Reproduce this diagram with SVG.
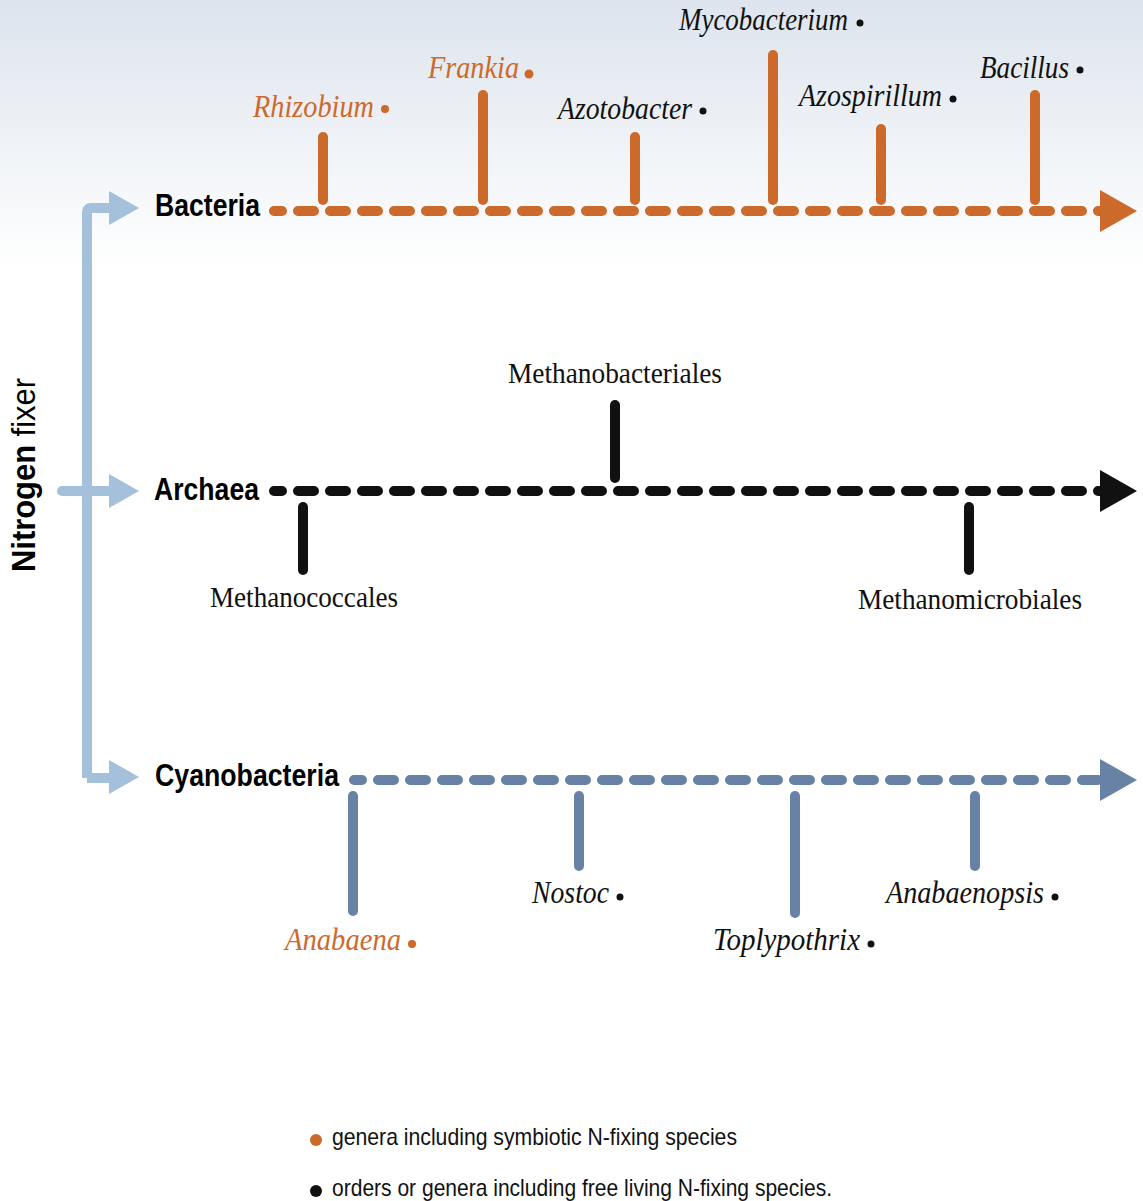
<svg xmlns="http://www.w3.org/2000/svg" width="1143" height="1201" viewBox="0 0 1143 1201">
<style>
.it{font-family:"Liberation Serif","Times New Roman",serif;font-style:italic;font-size:32px}
.rm{font-family:"Liberation Serif","Times New Roman",serif;font-size:30px;fill:#111}
.hd{font-family:"Liberation Sans",Arial,sans-serif;font-weight:bold;font-size:32px;fill:#000}
.lg{font-family:"Liberation Sans",Arial,sans-serif;font-size:24px;fill:#111}
.or{fill:#cc6a2c}
.bk{fill:#111}
.stemO{stroke:#cc6a2c;stroke-width:10;stroke-linecap:round;fill:none}
.stemK{stroke:#111;stroke-width:10;stroke-linecap:round;fill:none}
.stemB{stroke:#6882a6;stroke-width:10;stroke-linecap:round;fill:none}
.dash{stroke-width:10;stroke-linecap:round;stroke-dasharray:16 16;fill:none}
.br{stroke:#a4c0da;stroke-width:10;fill:none;stroke-linejoin:round}
</style>
<defs>
<linearGradient id="bg" x1="0" y1="0" x2="0" y2="1">
<stop offset="0" stop-color="#dde4ed"/>
<stop offset="1" stop-color="#ffffff"/>
</linearGradient>
</defs>
<rect x="0" y="0" width="1143" height="1201" fill="#fff"/>
<rect x="0" y="0" width="1143" height="270" fill="url(#bg)"/>

<g id="connectors">
<path class="br" d="M87 778 V212 Q87 208 91 208 H112"/>
<path class="br" d="M87 778 Q87 778 91 778 H112"/>
<path class="br" d="M62 491 H112" stroke-linecap="round"/>
<polygon points="109,191 139,208 109,225" fill="#a4c0da"/>
<polygon points="109,474 139,491 109,508" fill="#a4c0da"/>
<polygon points="109,760 139,777 109,794" fill="#a4c0da"/>

<line class="dash" x1="274" y1="211" x2="1102" y2="211" stroke="#cc6a2c" stroke-dashoffset="8"/>
<polygon points="1100,190 1137,211 1100,232" fill="#cc6a2c"/>
<line class="dash" x1="274" y1="491" x2="1102" y2="491" stroke="#111" stroke-dashoffset="8"/>
<polygon points="1100,470 1137,491 1100,512" fill="#111"/>
<line class="dash" x1="354" y1="780" x2="1102" y2="780" stroke="#6882a6" stroke-dashoffset="8"/>
<polygon points="1100,759 1137,780 1100,801" fill="#6882a6"/>
</g>

<g id="nitrogen-fixer">
<text transform="translate(35,572) rotate(-90)" font-family="Liberation Sans, Arial, sans-serif" font-size="34" fill="#000" textLength="194" lengthAdjust="spacingAndGlyphs"><tspan font-weight="bold">Nitrogen</tspan> fixer</text>
</g>

<g id="bacteria"><text class="hd" x="155" y="216" textLength="105" lengthAdjust="spacingAndGlyphs">Bacteria</text></g>
<g id="archaea"><text class="hd" x="154" y="500" textLength="105" lengthAdjust="spacingAndGlyphs">Archaea</text></g>
<g id="cyanobacteria"><text class="hd" x="155" y="786" textLength="184" lengthAdjust="spacingAndGlyphs">Cyanobacteria</text></g>

<g id="rhizobium"><line class="stemO" x1="323" y1="137" x2="323" y2="200"/><text class="it or" x="253" y="117" textLength="121" lengthAdjust="spacingAndGlyphs">Rhizobium</text><circle class="or" cx="385" cy="109" r="4"/></g>
<g id="frankia"><line class="stemO" x1="483" y1="95" x2="483" y2="200"/><text class="it or" x="428" y="78" textLength="91" lengthAdjust="spacingAndGlyphs">Frankia</text><circle class="or" cx="529" cy="74" r="4.5"/></g>
<g id="azotobacter"><line class="stemO" x1="635" y1="137" x2="635" y2="200"/><text class="it bk" x="558" y="119" textLength="134" lengthAdjust="spacingAndGlyphs">Azotobacter</text><circle class="bk" cx="703" cy="111" r="3.5"/></g>
<g id="mycobacterium"><line class="stemO" x1="773" y1="55" x2="773" y2="200"/><text class="it bk" x="679" y="30" textLength="169" lengthAdjust="spacingAndGlyphs">Mycobacterium</text><circle class="bk" cx="860" cy="23" r="3.5"/></g>
<g id="azospirillum"><line class="stemO" x1="881" y1="129" x2="881" y2="200"/><text class="it bk" x="799" y="106" textLength="143" lengthAdjust="spacingAndGlyphs">Azospirillum</text><circle class="bk" cx="953" cy="99" r="3.5"/></g>
<g id="bacillus"><line class="stemO" x1="1035" y1="95" x2="1035" y2="200"/><text class="it bk" x="980" y="78" textLength="89" lengthAdjust="spacingAndGlyphs">Bacillus</text><circle class="bk" cx="1080" cy="70" r="3.5"/></g>

<g id="methanobacteriales"><line class="stemK" x1="615" y1="405" x2="615" y2="478"/><text class="rm" x="508" y="383" textLength="214" lengthAdjust="spacingAndGlyphs">Methanobacteriales</text></g>
<g id="methanococcales"><line class="stemK" x1="303" y1="507" x2="303" y2="570"/><text class="rm" x="210" y="607" textLength="188" lengthAdjust="spacingAndGlyphs">Methanococcales</text></g>
<g id="methanomicrobiales"><line class="stemK" x1="969" y1="507" x2="969" y2="570"/><text class="rm" x="858" y="609" textLength="224" lengthAdjust="spacingAndGlyphs">Methanomicrobiales</text></g>

<g id="anabaena"><line class="stemB" x1="353" y1="796" x2="353" y2="911"/><text class="it or" x="285" y="950" textLength="116" lengthAdjust="spacingAndGlyphs">Anabaena</text><circle class="or" cx="412" cy="944" r="4"/></g>
<g id="nostoc"><line class="stemB" x1="579" y1="796" x2="579" y2="866"/><text class="it bk" x="532" y="903" textLength="77" lengthAdjust="spacingAndGlyphs">Nostoc</text><circle class="bk" cx="620" cy="897" r="3.5"/></g>
<g id="toplypothrix"><line class="stemB" x1="795" y1="796" x2="795" y2="913"/><text class="it bk" x="713" y="950" textLength="147" lengthAdjust="spacingAndGlyphs">Toplypothrix</text><circle class="bk" cx="871" cy="944" r="3.5"/></g>
<g id="anabaenopsis"><line class="stemB" x1="975" y1="796" x2="975" y2="866"/><text class="it bk" x="886" y="903" textLength="158" lengthAdjust="spacingAndGlyphs">Anabaenopsis</text><circle class="bk" cx="1055" cy="897" r="3.5"/></g>

<g id="legend">
<circle class="or" cx="316" cy="1140" r="6"/>
<text class="lg" x="332" y="1145" textLength="405" lengthAdjust="spacingAndGlyphs">genera including symbiotic N-fixing species</text>
<circle class="bk" cx="316" cy="1191" r="6"/>
<text class="lg" x="332" y="1196" textLength="500" lengthAdjust="spacingAndGlyphs">orders or genera including free living N-fixing species.</text>
</g>
</svg>
